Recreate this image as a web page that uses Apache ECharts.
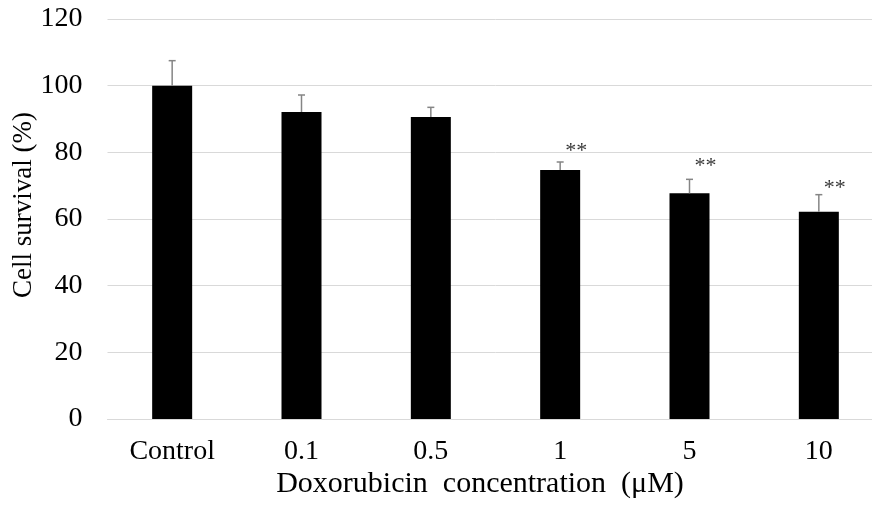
<!DOCTYPE html>
<html>
<head>
<meta charset="utf-8">
<script src="https://cdn.jsdelivr.net/npm/echarts@6/dist/echarts.min.js"></script>
<style>html,body{margin:0;padding:0;background:#fff;overflow:hidden}#c{width:884px;height:507px}</style>
</head>
<body>
<div id="c"></div>
<script>
const categories = ['Control', '0.1', '0.5', '1', '5', '10'];
const survival = [100, 92.1, 90.6, 74.7, 67.7, 62.2];
const errorTop = [107.5, 97.2, 93.5, 77.1, 71.9, 67.3];
const significance = ['', '', '', '**', '**', '**'];
const starValue = [0, 0, 0, 81.3, 76.7, 70.2];
const yTicks = [0, 20, 40, 60, 80, 100, 120];

const font = 'Liberation Serif, Times New Roman, serif';
const chart = echarts.init(document.getElementById('c'));

const errData = categories.map((c, i) => [i, survival[i], errorTop[i]]);
const starData = categories.map((c, i) => significance[i] ? [i, starValue[i]] : null).filter(Boolean);

chart.setOption({
  animation: false,
  backgroundColor: '#fff',
  grid: { left: 107.5, right: 0.5, top: 19, bottom: 88, containLabel: false, outerBoundsMode: 'none' },
  xAxis: {
    type: 'category',
    data: categories,
    axisTick: { show: false },
    axisLine: { lineStyle: { color: '#d9d9d9', width: 1 } },
    axisLabel: { color: '#000', fontFamily: font, fontSize: 28, margin: 19 },
    name: 'Doxorubicin  concentration  (μM)',
    nameLocation: 'middle',
    nameGap: 50,
    nameMoveOverlap: false,
    nameTextStyle: { color: '#000', fontFamily: font, fontSize: 30, padding: [0, 31, 0, 0] }
  },
  yAxis: {
    type: 'value',
    min: yTicks[0],
    max: yTicks[yTicks.length - 1],
    interval: 20,
    axisLine: { show: false },
    axisTick: { show: false },
    splitLine: { lineStyle: { color: '#d9d9d9', width: 1 } },
    axisLabel: { color: '#000', fontFamily: font, fontSize: 28, margin: 25 },
    name: 'Cell survival (%)',
    nameLocation: 'middle',
    nameGap: 70,
    nameRotate: 90,
    nameMoveOverlap: false,
    nameTextStyle: { color: '#000', fontFamily: font, fontSize: 27, padding: [0, 0, 0, 28] }
  },
  series: [
    {
      type: 'bar',
      data: survival,
      barWidth: 40,
      itemStyle: { color: '#000' },
      z: 2
    },
    {
      type: 'custom',
      data: errData,
      z: 3,
      renderItem: function (params, api) {
        const x = api.value(0);
        const base = api.coord([x, api.value(1)]);
        const top = api.coord([x, api.value(2)]);
        const half = 3.5;
        const style = { stroke: '#858585', lineWidth: 1.5 };
        return {
          type: 'group',
          children: [
            { type: 'line', shape: { x1: base[0], y1: base[1], x2: top[0], y2: top[1] }, style: style },
            { type: 'line', shape: { x1: top[0] - half, y1: top[1], x2: top[0] + half, y2: top[1] }, style: style }
          ]
        };
      }
    },
    {
      type: 'scatter',
      data: starData,
      symbolSize: 0,
      z: 4,
      label: {
        show: true,
        position: 'inside',
        offset: [16, 3],
        formatter: function (p) { return significance[p.value[0]]; },
        color: '#000',
        fontFamily: font,
        fontSize: 22
      }
    }
  ]
});
</script>
</body>
</html>
